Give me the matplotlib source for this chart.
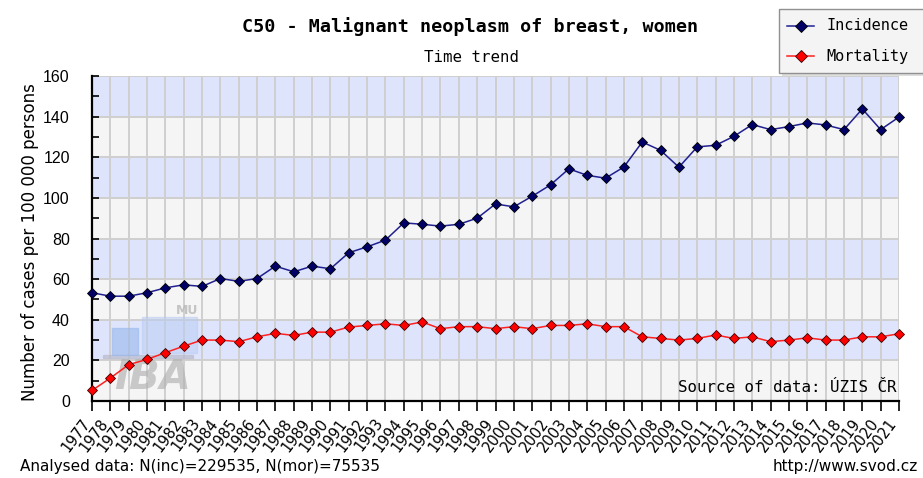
import matplotlib
matplotlib.use("Agg")
import matplotlib.pyplot as plt
import matplotlib.transforms as mtransforms
import numpy as np
from matplotlib.patches import Rectangle
from matplotlib.lines import Line2D

years = list(range(1977, 2022))
incidence = [53.3, 51.6, 51.6, 53.3, 55.7, 57.2, 56.4, 60.3, 58.9, 60.3, 66.4, 63.6, 66.4, 65.1, 73.0,
             75.9, 79.2, 87.7, 87.0, 86.1, 87.0, 90.0, 97.0, 95.6, 100.8, 106.4, 114.3, 111.1, 109.7, 115.2,
             127.5, 123.4, 115.1, 125.1, 125.9, 130.3, 136.1, 133.6, 135.1, 136.9, 135.9, 133.6, 143.8, 133.6, 139.8]
mortality = [5.2, 11.3, 17.9, 20.5, 23.8, 27.0, 30.0, 30.0, 29.2, 31.6, 33.3, 32.3, 33.9, 33.9, 36.4,
             37.2, 38.0, 37.2, 38.9, 35.6, 36.6, 36.6, 35.6, 36.6, 35.6, 37.2, 37.2, 38.0, 36.6, 36.6,
             31.6, 30.8, 30.0, 30.8, 32.5, 30.8, 31.6, 29.2, 30.0, 31.1, 30.0, 30.0, 31.6, 31.6, 33.1]
series_names = ["Incidence", "Mortality"]
yticks = [0, 20, 40, 60, 80, 100, 120, 140, 160]
title = "C50 - Malignant neoplasm of breast, women"
subtitle = "Time trend"
ylabel = "Number of cases per 100 000 persons"
source = "Source of data: ÚZIS ČR"
analysed = "Analysed data: N(inc)=229535, N(mor)=75535"
url = "http://www.svod.cz"

W, H = 923, 478
fig = plt.figure(figsize=(W / 100, H / 100), dpi=100)
fig.patch.set_facecolor("white")

def fx(px):
    return px / W

def fy(py):
    return 1 - py / H

L, R, T, B = 92, 899, 76, 401
ax = fig.add_axes([fx(L), fy(B), fx(R - L), (B - T) / H])
ax.set_xlim(years[0], years[-1])
ax.set_ylim(0, 160)

# background bands
band_colors = ["#f5f5f5", "#dde4fc"]
for i in range(8):
    ax.axhspan(i * 20, (i + 1) * 20, color=band_colors[i % 2], zorder=0, lw=0)

for y in yticks[1:]:
    ax.axhline(y, color="#cfcfcf", lw=1.4, zorder=1)
for x in years[1:]:
    ax.axvline(x, color="#cfcfcf", lw=1.4, zorder=1)

ax.plot(years, incidence, color="#202090", lw=1.1, marker="D", ms=5,
        mfc="#000066", mec="black", mew=0.6, zorder=5, clip_on=False)
ax.plot(years, mortality, color="#ff2020", lw=1.1, marker="D", ms=5,
        mfc="#ff0000", mec="#400000", mew=0.6, zorder=5, clip_on=False)

for s in ["top", "right"]:
    ax.spines[s].set_visible(False)
ax.spines["left"].set_linewidth(1.6)
ax.spines["bottom"].set_linewidth(1.6)

ax.set_yticks(yticks)
ax.set_yticks(range(0, 161, 10), minor=True)
ax.tick_params(axis="y", direction="in", length=5, width=1.2, which="both",
               labelsize=11.5, pad=16)
for lab in ax.get_yticklabels():
    lab.set_family("Liberation Sans")

ax.set_xticks(years)
ax.set_xticklabels([str(y) for y in years], rotation=53, ha="right", va="center",
                   rotation_mode="anchor", fontsize=10.5, family="DejaVu Sans")
ax.tick_params(axis="x", direction="out", length=7, width=1.2, pad=4)
offset = mtransforms.ScaledTranslation(-5 / 100, -4 / 100, fig.dpi_scale_trans)
for lab in ax.get_xticklabels():
    lab.set_transform(lab.get_transform() + offset)

# source text inside
ax.text(0.9975, 0.02, source, transform=ax.transAxes, ha="right", va="bottom",
        family="DejaVu Sans Mono", fontsize=11.4, zorder=6)

# watermark
wm = dict(transform=fig.transFigure, zorder=2)
ax.add_patch(Rectangle((fx(103), fy(358)), fx(90), 3 / H, color="#b8b8c8", alpha=0.6, **wm))
ax.add_patch(Rectangle((fx(112), fy(355)), fx(26), 27 / H, color="#9ab8ec", alpha=0.6, **wm))
ax.add_patch(Rectangle((fx(142), fy(353)), fx(55), 36 / H, color="#b8ccf4", alpha=0.5, **wm))
ax.text(fx(153), fy(378), "IBA", transform=fig.transFigure, ha="center", va="center",
        fontsize=29, fontweight="bold", style="italic", color="#b0b0b0", alpha=0.65,
        family="DejaVu Sans", zorder=2)
ax.text(fx(187), fy(311), "MU", transform=fig.transFigure, ha="center", va="center",
        fontsize=9, fontweight="bold", color="#b8b8b8", alpha=0.8,
        family="DejaVu Sans", zorder=2)

# titles
fig.text(fx(470), fy(27), title, ha="center", va="center", family="DejaVu Sans Mono",
         fontweight="bold", fontsize=13.2)
fig.text(fx(471), fy(57), subtitle, ha="center", va="center", family="DejaVu Sans Mono",
         fontsize=11.3)
fig.text(fx(30), fy(242), ylabel, ha="center", va="center", rotation=90,
         family="DejaVu Sans", fontsize=12)
fig.text(fx(20), fy(467), analysed, ha="left", va="center", family="DejaVu Sans", fontsize=11)
fig.text(fx(918), fy(467), url, ha="right", va="center", family="DejaVu Sans", fontsize=11)

# legend (manual, partly cut at the right edge)
fig.patches.append(Rectangle((fx(782), fy(76)), fx(160), 64 / H, transform=fig.transFigure,
                             facecolor="#c8c8c8", edgecolor="none", alpha=0.6, zorder=8))
fig.patches.append(Rectangle((fx(779), fy(73)), fx(160), 64 / H, transform=fig.transFigure,
                             facecolor="#f4f4f4", edgecolor="#909090", lw=1.0, zorder=9))
handles = [("#202090", "#000066", "black", 26), ("#ff2020", "#ff0000", "#400000", 56)]
for name, (lc, fc, ec, yy) in zip(series_names, handles):
    fig.lines.append(Line2D([fx(787), fx(814)], [fy(yy), fy(yy)], transform=fig.transFigure,
                            color=lc, lw=1.1, zorder=10))
    fig.lines.append(Line2D([fx(800.5)], [fy(yy)], transform=fig.transFigure, marker="D",
                            ms=6, mfc=fc, mec=ec, mew=0.6, ls="none", zorder=11))
    fig.text(fx(826), fy(yy), name, ha="left", va="center", family="DejaVu Sans Mono",
             fontsize=11, zorder=12)

fig.savefig("out.png", dpi=100)
